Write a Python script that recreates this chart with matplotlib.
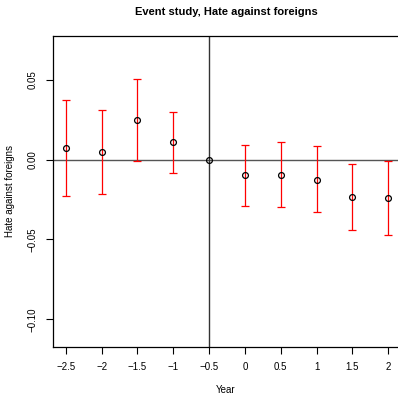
import matplotlib
matplotlib.use("Agg")
import matplotlib.pyplot as plt
import numpy as np

plt.rcParams['font.family'] = ['Liberation Sans', 'DejaVu Sans']

years = [-2.5, -2, -1.5, -1, -0.5, 0, 0.5, 1, 1.5, 2]
estimates = [0.0073, 0.0048, 0.0246, 0.0108, 0.0, -0.0098, -0.0094, -0.0125, -0.0236, -0.0238]
upper = [0.0373, 0.0308, 0.0506, 0.0300, 0.0, 0.0092, 0.0108, 0.0086, -0.0029, -0.0008]
lower = [-0.0229, -0.0213, -0.0011, -0.0083, 0.0, -0.0288, -0.0300, -0.0331, -0.0442, -0.0469]
xticks = [-2.5, -2, -1.5, -1, -0.5, 0, 0.5, 1, 1.5, 2]
xticklabels = ["\u22122.5", "\u22122", "\u22121.5", "\u22121", "\u22120.5", "0", "0.5", "1", "1.5", "2"]
yticks = [-0.10, -0.05, 0.00, 0.05]
yticklabels = ["\u22120.10", "\u22120.05", "0.00", "0.05"]

W, H = 398, 401
fig = plt.figure(figsize=(W / 100, H / 100), dpi=100)
left, right, top, bottom = 53, 401, 36, 347
ax = fig.add_axes([left / W, (H - bottom) / H, (right - left) / W, (bottom - top) / H])

x = np.array(years)
y = np.array(estimates)
up = np.array(upper)
lo = np.array(lower)
mask = up != lo
ax.axhline(0, color='#555555', lw=1.0, zorder=1)
ax.axvline(-0.5, color='#333333', lw=1.0, zorder=1)
ax.errorbar(x[mask], y[mask], yerr=[y[mask] - lo[mask], up[mask] - y[mask]], fmt='none',
            ecolor='red', elinewidth=0.9, capsize=3.2, capthick=0.9, zorder=2)
ax.plot(x, y, 'o', mfc='none', mec='black', ms=4.2, mew=0.9, zorder=3)

ax.set_xlim(-2.68, 2.18)
ax.set_ylim(-0.1172, 0.0772)
ax.set_xticks(xticks)
ax.set_xticklabels(xticklabels)
ax.set_yticks(yticks)
ax.set_yticklabels(yticklabels, rotation=90, va='center')
ax.tick_params(axis='both', direction='out', length=5, width=0.8, labelsize=7, pad=6, colors='black')
for s in ax.spines.values():
    s.set_linewidth(0.9)
    s.set_color('black')

fig.text(226 / W, 1 - 390 / H, 'Year', ha='center', va='center', fontsize=7)
fig.text(10 / W, 1 - 191 / H, 'Hate against foreigns', ha='center', va='center', fontsize=7,
         rotation=90)
fig.text(226 / W, 1 - 12 / H, 'Event study, Hate against foreigns', ha='center', va='center',
         fontsize=8, fontweight='bold')

fig.savefig('out.png', dpi=100)
